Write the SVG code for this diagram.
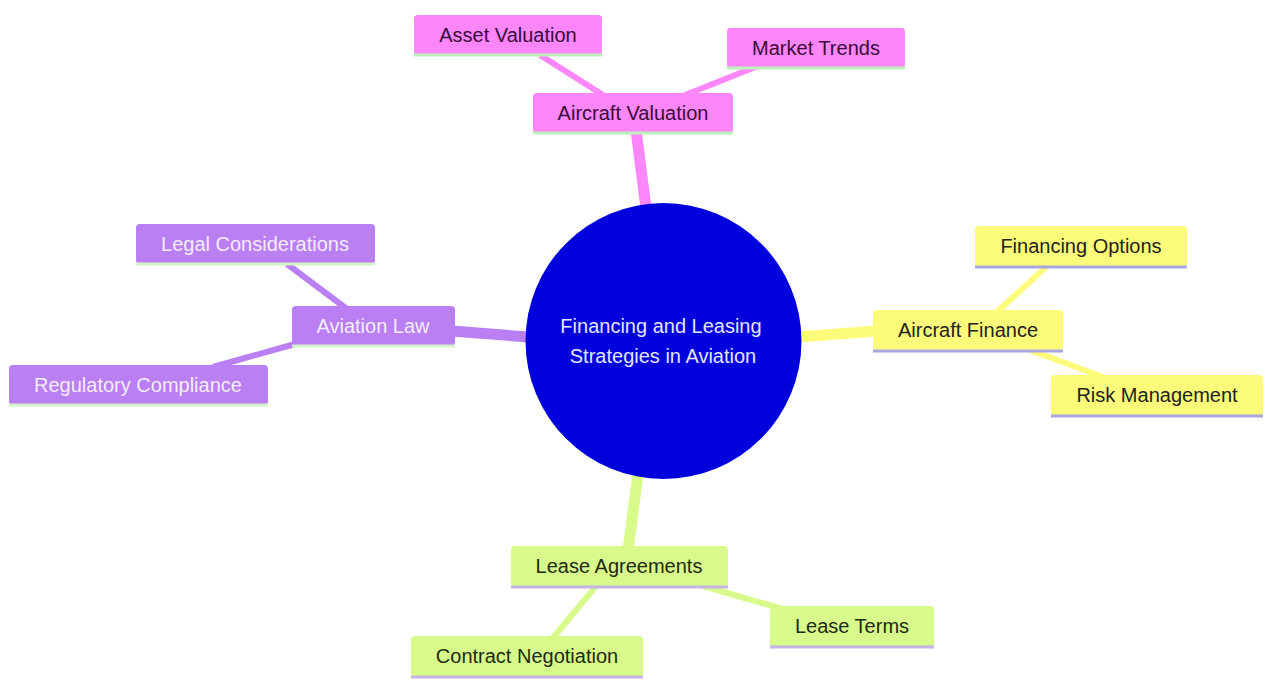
<svg xmlns="http://www.w3.org/2000/svg" width="1264" height="680" viewBox="0 0 1264 680">
<style>
text{font-family:"Liberation Sans",Arial,sans-serif;font-size:20px;text-anchor:middle}
.pink rect{fill:#fd86fa}
.pink text{fill:#3a0a3a}
.pink line{stroke:#bdf0b8}
.purple rect{fill:#b97ff3}
.purple text{fill:#f4ecff}
.purple line{stroke:#d4f4c8}
.yellow rect{fill:#fdfc7a}
.yellow text{fill:#222}
.yellow line{stroke:#a9a6e0}
.green rect{fill:#d7fa8a}
.green text{fill:#1e2a12}
.green line{stroke:#c4b4e6}
.node line{stroke-width:3}
#edges line{stroke-linecap:butt}
.e-pink{stroke:#fd86fa}.e-purple{stroke:#b97ff3}.e-yellow{stroke:#fdfc7a}.e-green{stroke:#d7fa8a}
.thick{stroke-width:11}.thin{stroke-width:6}
</style>
<rect width="1264" height="680" fill="#ffffff"/>
<g id="edges">
<line class="e-pink thick" x1="646" y1="208" x2="636" y2="130"/>
<line class="e-pink thin" x1="603" y1="95" x2="540" y2="55"/>
<line class="e-pink thin" x1="685" y1="95" x2="758" y2="66"/>
<line class="e-purple thick" x1="452" y1="331" x2="528" y2="337"/>
<line class="e-purple thin" x1="347" y1="309" x2="287" y2="264"/>
<line class="e-purple thin" x1="295" y1="344" x2="213" y2="367"/>
<line class="e-yellow thick" x1="798" y1="337" x2="876" y2="331"/>
<line class="e-yellow thin" x1="997" y1="312" x2="1047" y2="266"/>
<line class="e-yellow thin" x1="1030" y1="350" x2="1103" y2="377"/>
<line class="e-green thick" x1="638" y1="474" x2="628" y2="550"/>
<line class="e-green thin" x1="596" y1="586" x2="552" y2="639"/>
<line class="e-green thin" x1="703" y1="586" x2="783" y2="609"/>
</g>
<g id="root">
<circle cx="663.5" cy="341" r="138" fill="#0000dd"/>
<text x="661" y="333" fill="#e4e4ff">Financing and Leasing</text>
<text x="663" y="363" fill="#e4e4ff">Strategies in Aviation</text>
</g>
<g id="aircraft-valuation" class="node pink">
<rect x="533" y="93" width="200" height="40" rx="4"/>
<line x1="533" y1="133" x2="733" y2="133"/>
<text x="633" y="120">Aircraft Valuation</text>
</g>
<g id="asset-valuation" class="node pink">
<rect x="414" y="15" width="188" height="40" rx="4"/>
<line x1="414" y1="55" x2="602" y2="55"/>
<text x="508" y="42">Asset Valuation</text>
</g>
<g id="market-trends" class="node pink">
<rect x="727" y="28" width="178" height="40" rx="4"/>
<line x1="727" y1="68" x2="905" y2="68"/>
<text x="816" y="55">Market Trends</text>
</g>
<g id="aviation-law" class="node purple">
<rect x="292" y="306" width="163" height="40" rx="4"/>
<line x1="292" y1="346" x2="455" y2="346"/>
<text x="373" y="333">Aviation Law</text>
</g>
<g id="legal-considerations" class="node purple">
<rect x="136" y="224" width="239" height="40" rx="4"/>
<line x1="136" y1="264" x2="375" y2="264"/>
<text x="255" y="251">Legal Considerations</text>
</g>
<g id="regulatory-compliance" class="node purple">
<rect x="9" y="365" width="259" height="40" rx="4"/>
<line x1="9" y1="405" x2="268" y2="405"/>
<text x="138" y="392">Regulatory Compliance</text>
</g>
<g id="aircraft-finance" class="node yellow">
<rect x="873" y="310" width="190" height="41" rx="4"/>
<line x1="873" y1="351" x2="1063" y2="351"/>
<text x="968" y="337">Aircraft Finance</text>
</g>
<g id="financing-options" class="node yellow">
<rect x="975" y="226" width="212" height="41" rx="4"/>
<line x1="975" y1="267" x2="1187" y2="267"/>
<text x="1081" y="253">Financing Options</text>
</g>
<g id="risk-management" class="node yellow">
<rect x="1051" y="375" width="212" height="41" rx="4"/>
<line x1="1051" y1="416" x2="1263" y2="416"/>
<text x="1157" y="402">Risk Management</text>
</g>
<g id="lease-agreements" class="node green">
<rect x="511" y="546" width="217" height="41" rx="4"/>
<line x1="511" y1="587" x2="728" y2="587"/>
<text x="619" y="573">Lease Agreements</text>
</g>
<g id="lease-terms" class="node green">
<rect x="770" y="606" width="164" height="41" rx="4"/>
<line x1="770" y1="647" x2="934" y2="647"/>
<text x="852" y="633">Lease Terms</text>
</g>
<g id="contract-negotiation" class="node green">
<rect x="411" y="636" width="232" height="41" rx="4"/>
<line x1="411" y1="677" x2="643" y2="677"/>
<text x="527" y="663">Contract Negotiation</text>
</g>
</svg>
